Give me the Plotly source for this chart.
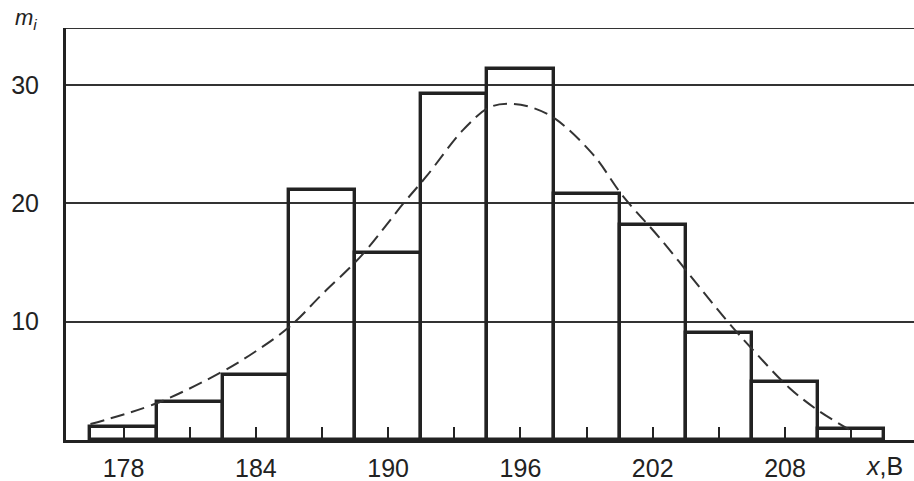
import plotly.graph_objects as go

# Histogram data (bin centres, bin width 3 V)
bin_centers = [178, 181, 184, 187, 190, 193, 196, 199, 202, 205, 208, 211]
counts = [1.1, 3.2, 5.5, 21.1, 15.8, 29.2, 31.3, 20.8, 18.2, 9.0, 4.9, 0.9]

# Fitted density curve
curve_x = [176.5, 179.5, 182.5, 184.0, 185.55, 187.0, 188.8, 190.7, 191.75, 193.4,
           194.6, 195.5, 196.5, 197.6, 199.3, 200.65, 202.3, 204.3, 205.4, 206.5,
           208.2, 209.5, 210.9]
curve_y = [1.35, 3.1, 5.8, 7.5, 9.6, 12.3, 15.6, 20.0, 22.3, 26.2,
           28.1, 28.4, 28.1, 27.1, 24.1, 20.6, 17.1, 12.5, 10.0, 7.7,
           4.4, 2.5, 0.9]

x_tick_vals = [178, 184, 190, 196, 202, 208]
x_tick_text = ["178", "184", "190", "196", "202", "208"]
y_tick_vals = [10, 20, 30]
y_tick_text = ["10", "20", "30"]

ink = "#222222"
font = dict(family="Liberation Sans, Arial, sans-serif", size=25, color=ink)

fig = go.Figure()
fig.add_trace(go.Bar(
    x=bin_centers, y=counts, width=3,
    marker=dict(color="rgba(0,0,0,0)", line=dict(color=ink, width=3.4)),
    hoverinfo="skip", showlegend=False,
))
fig.add_trace(go.Scatter(
    x=curve_x, y=curve_y, mode="lines",
    line=dict(color="#333333", width=2, dash="14px,7px", shape="spline"),
    hoverinfo="skip", showlegend=False,
))

fig.update_layout(
    width=914, height=481,
    margin=dict(l=66, r=0, t=28, b=41),
    paper_bgcolor="white", plot_bgcolor="white",
    bargap=0,
    font=font,
    xaxis=dict(
        range=[175.39, 213.85],
        tickvals=x_tick_vals, ticktext=x_tick_text,
        ticks="inside", ticklen=13, tickwidth=2, tickcolor=ink,
        minor=dict(tickvals=[181, 187, 193, 199, 205, 211], ticks="inside",
                   ticklen=13, tickwidth=2, tickcolor=ink),
        showgrid=False, zeroline=False,
        showline=True, linecolor=ink, linewidth=3,
        ticklabelstandoff=4,
        tickfont=font,
    ),
    yaxis=dict(
        range=[0, 34.8],
        tickvals=y_tick_vals, ticktext=y_tick_text,
        ticks="", showgrid=True, gridcolor="#333333", gridwidth=1.6,
        zeroline=False,
        showline=True, linecolor=ink, linewidth=3,
        ticklabelstandoff=19,
        tickfont=font,
    ),
    shapes=[dict(type="line", xref="paper", yref="y", x0=0, x1=1, y0=34.8, y1=34.8,
                 line=dict(color="#333333", width=2))],
    annotations=[
        dict(text="<i>m</i><sub><i>i</i></sub>", xref="paper", yref="paper",
             x=-0.047, y=1.0, xanchor="center", yanchor="top", yshift=25,
             showarrow=False,
             font=dict(family="Liberation Sans, Arial, sans-serif", size=22, color=ink)),
        dict(text="<i>x</i>,B", xref="x", yref="paper",
             x=212.5, y=0, xanchor="center", yanchor="top", yshift=-10, showarrow=False,
             font=font),
    ],
)

fig.write_html("out.html")
